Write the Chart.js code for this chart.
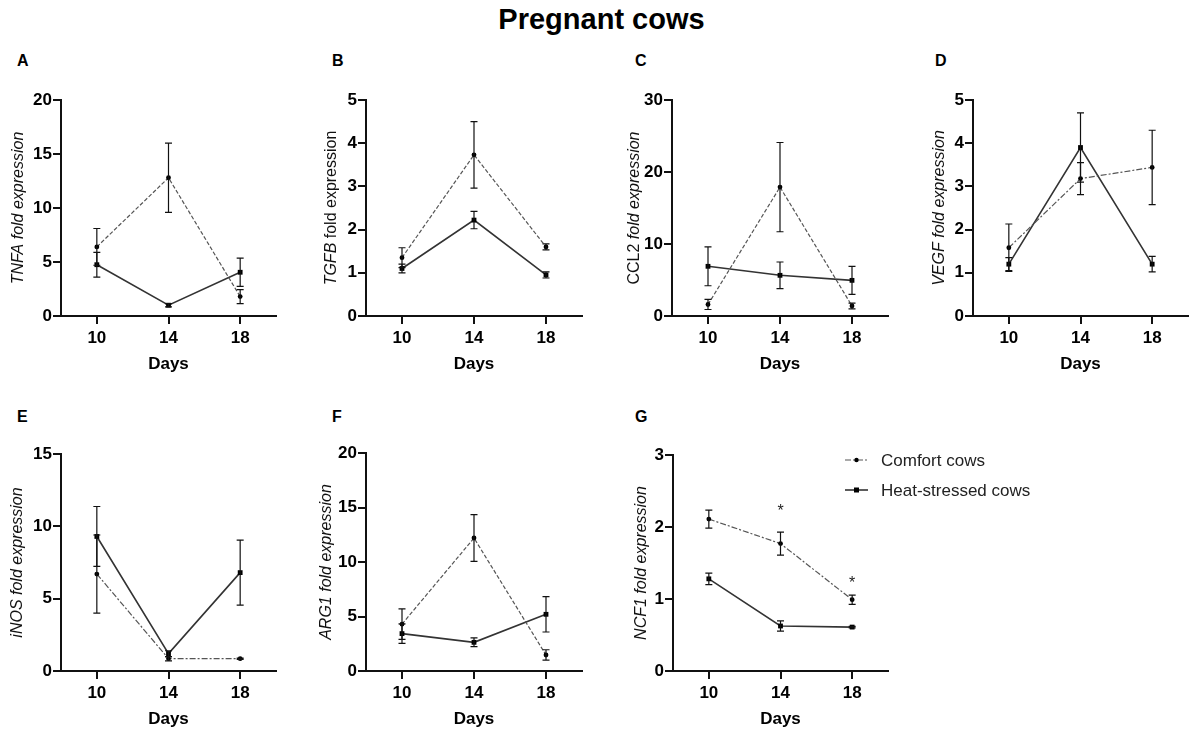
<!DOCTYPE html>
<html><head><meta charset="utf-8">
<script src="https://cdn.jsdelivr.net/npm/chart.js@4/dist/chart.umd.min.js"></script>
<style>
body{margin:0;background:#fff;width:1195px;height:732px;overflow:hidden;position:relative;font-family:"Liberation Sans",Arial,sans-serif;}
canvas{position:absolute;}
.t{position:absolute;font-weight:bold;color:#000;white-space:nowrap;}
</style></head><body>
<div class="t" style="left:4px;width:1195px;text-align:center;top:5px;font-size:29px;line-height:29px;">Pregnant cows</div>
<script>
// ---- data ----
const days = [10, 14, 18];
const seriesLabels = ['Comfort cows', 'Heat-stressed cows'];

const tnfaComfort = [6.4, 12.8, 1.8];
const tnfaComfortErr = [1.7, 3.2, 0.65];
const tnfaHeat = [4.75, 1.0, 4.05];
const tnfaHeatErr = [1.15, 0.15, 1.3];

const tgfbComfort = [1.35, 3.73, 1.6];
const tgfbComfortErr = [0.23, 0.77, 0.07];
const tgfbHeat = [1.1, 2.22, 0.95];
const tgfbHeatErr = [0.1, 0.2, 0.07];

const ccl2Comfort = [1.6, 17.9, 1.4];
const ccl2ComfortErr = [0.7, 6.2, 0.4];
const ccl2Heat = [6.9, 5.65, 4.95];
const ccl2HeatErr = [2.7, 1.85, 1.95];

const vegfComfort = [1.58, 3.18, 3.44];
const vegfComfortErr = [0.55, 0.37, 0.86];
const vegfHeat = [1.2, 3.9, 1.2];
const vegfHeatErr = [0.15, 0.8, 0.18];

const inosComfort = [6.7, 0.85, 0.85];
const inosComfortErr = [2.7, 0.15, 0.04];
const inosHeat = [9.3, 1.2, 6.8];
const inosHeatErr = [2.07, 0.2, 2.25];

const arg1Comfort = [4.3, 12.2, 1.47];
const arg1ComfortErr = [1.4, 2.15, 0.48];
const arg1Heat = [3.43, 2.63, 5.2];
const arg1HeatErr = [0.9, 0.4, 1.62];

const ncf1Comfort = [2.11, 1.77, 0.99];
const ncf1ComfortErr = [0.125, 0.16, 0.065];
const ncf1Heat = [1.28, 0.625, 0.61];
const ncf1HeatErr = [0.08, 0.07, 0.01];
const ncf1StarDays = [14, 18];
const ncf1StarLevels = [2.22, 1.22];

const panelLetters = ['A','B','C','D','E','F','G'];

// ---- layout ----
const FAM = '"Liberation Sans", Arial, sans-serif';
const DASH = [4, 2];
const DASHDOT = [6, 2, 2, 2];

const panels = [
  {lx:17, ly:52.5, yLabel:[['TNFA fold expression',true]], c:tnfaComfort, ce:tnfaComfortErr, h:tnfaHeat, he:tnfaHeatErr, yMax:20, yStep:5, box:{x:61,r:276,t:100,b:316}, dx:42, dash:DASH},
  {lx:332, ly:52.5, yLabel:[['TGFB',true],[' fold expression',false]], c:tgfbComfort, ce:tgfbComfortErr, h:tgfbHeat, he:tgfbHeatErr, yMax:5, yStep:1, box:{x:366,r:582,t:100,b:316}, dx:34, dash:DASH},
  {lx:635, ly:52.5, yLabel:[['CCL2',false],[' fold expression',true]], c:ccl2Comfort, ce:ccl2ComfortErr, h:ccl2Heat, he:ccl2HeatErr, yMax:30, yStep:10, box:{x:672,r:888,t:100,b:316}, dx:37, dash:DASH},
  {lx:935, ly:52.5, yLabel:[['VEGF fold expression',true]], c:vegfComfort, ce:vegfComfortErr, h:vegfHeat, he:vegfHeatErr, yMax:5, yStep:1, box:{x:973,r:1188,t:100,b:316}, dx:33, dash:DASHDOT},
  {lx:17, ly:408.5, yLabel:[['iNOS fold expression',true]], c:inosComfort, ce:inosComfortErr, h:inosHeat, he:inosHeatErr, yMax:15, yStep:5, box:{x:61,r:276,t:454,b:671}, dx:43, dash:DASHDOT},
  {lx:332, ly:408.5, yLabel:[['ARG1 fold expression',true]], c:arg1Comfort, ce:arg1ComfortErr, h:arg1Heat, he:arg1HeatErr, yMax:20, yStep:5, box:{x:366,r:582,t:453,b:671}, dx:39, dash:DASH},
  {lx:635, ly:408.5, yLabel:[['NCF1 fold expression',true]], c:ncf1Comfort, ce:ncf1ComfortErr, h:ncf1Heat, he:ncf1HeatErr, yMax:3, yStep:1, box:{x:673,r:888,t:455,b:671}, dx:31, dash:DASHDOT, stars:true, legend:true, extraRight:170}
];

// ---- plugins ----
const errorBars = {
  id:'errorBars',
  afterDatasetsDraw(chart){
    const ctx = chart.ctx, xs = chart.scales.x, ys = chart.scales.y;
    chart.data.datasets.forEach(ds => {
      if (!ds.errors) return;
      ctx.save();
      ctx.strokeStyle = '#111'; ctx.lineWidth = 1.2; ctx.setLineDash([]);
      ds.data.forEach((p, i) => {
        const e = ds.errors[i]; if (!e) return;
        const x = xs.getPixelForValue(p.x);
        const y1 = ys.getPixelForValue(p.y + e), y2 = ys.getPixelForValue(p.y - e);
        ctx.beginPath();
        ctx.moveTo(x, y1); ctx.lineTo(x, y2);
        ctx.moveTo(x - 3.5, y1); ctx.lineTo(x + 3.5, y1);
        ctx.moveTo(x - 3.5, y2); ctx.lineTo(x + 3.5, y2);
        ctx.stroke();
      });
      ctx.restore();
    });
  }
};

const yTitle = {
  id:'yTitle',
  afterDraw(chart, args, opts){
    const segs = opts.segments; if (!segs) return;
    const ctx = chart.ctx; ctx.save();
    const fonts = segs.map(s => (s[1] ? 'italic ' : '') + '16px ' + FAM);
    const widths = segs.map((s, i) => { ctx.font = fonts[i]; return ctx.measureText(s[0]).width; });
    const total = widths.reduce((a, b) => a + b, 0);
    const ca = chart.chartArea;
    ctx.translate(ca.left - opts.dx, (ca.top + ca.bottom) / 2);
    ctx.rotate(-Math.PI / 2);
    ctx.textBaseline = 'middle'; ctx.textAlign = 'left'; ctx.fillStyle = '#111';
    let x = -total / 2;
    segs.forEach((s, i) => { ctx.font = fonts[i]; ctx.fillText(s[0], x, 0); x += widths[i]; });
    ctx.restore();
  }
};

const stars = {
  id:'stars',
  afterDraw(chart, args, opts){
    if (!opts.xs) return;
    const ctx = chart.ctx; ctx.save();
    ctx.font = '16px ' + FAM; ctx.fillStyle = '#222';
    ctx.textAlign = 'center'; ctx.textBaseline = 'middle';
    opts.xs.forEach((d, i) => {
      ctx.fillText('*', chart.scales.x.getPixelForValue(d), chart.scales.y.getPixelForValue(opts.ys[i]));
    });
    ctx.restore();
  }
};

const seriesLegend = {
  id:'seriesLegend',
  afterDraw(chart, args, opts){
    if (!opts.show) return;
    const ctx = chart.ctx, ca = chart.chartArea;
    chart.data.datasets.forEach((ds, i) => {
      const y = ca.top + 5 + i * 30;
      const x0 = ca.right - 43, x1 = ca.right - 20;
      ctx.save();
      ctx.strokeStyle = ds.borderColor; ctx.lineWidth = ds.borderWidth;
      ctx.setLineDash(ds.borderDash || []);
      ctx.beginPath(); ctx.moveTo(x0, y); ctx.lineTo(x1, y); ctx.stroke();
      ctx.setLineDash([]);
      ctx.fillStyle = '#000';
      const xm = (x0 + x1) / 2;
      if (ds.pointStyle === 'rect') ctx.fillRect(xm - 2.5, y - 2.5, 5, 5);
      else { ctx.beginPath(); ctx.arc(xm, y, 2.2, 0, Math.PI * 2); ctx.fill(); }
      ctx.font = '17px ' + FAM; ctx.fillStyle = '#222';
      ctx.textAlign = 'left'; ctx.textBaseline = 'middle';
      ctx.fillText(ds.label, ca.right - 7, y + 1);
      ctx.restore();
    });
  }
};

// ---- build ----
panels.forEach((p, idx) => {
  const lt = document.createElement('div');
  lt.className = 't';
  lt.style.cssText = `left:${p.lx}px;top:${p.ly}px;font-size:16px;line-height:16px;`;
  lt.textContent = panelLetters[idx];
  document.body.appendChild(lt);

  const PT = 14, YW = 60, XH = 62, PR = 8 + (p.extraRight || 0);
  const cv = document.createElement('canvas');
  const w = p.box.r - p.box.x + YW + PR, h = p.box.b - p.box.t + PT + XH;
  cv.width = w; cv.height = h;
  cv.style.left = (p.box.x - YW) + 'px'; cv.style.top = (p.box.t - PT) + 'px';
  cv.style.width = w + 'px'; cv.style.height = h + 'px';
  document.body.appendChild(cv);

  const gridOpt = {drawOnChartArea:false, drawTicks:true, tickLength:8, color:'#111', lineWidth:2};
  const borderOpt = {display:true, color:'#111', width:2};
  const tickFont = {size:17, weight:'bold', family:FAM};

  new Chart(cv, {
    type:'line',
    data:{datasets:[
      {label:seriesLabels[0], data:days.map((d, i) => ({x:d, y:p.c[i]})), errors:p.ce,
       borderColor:'#555', borderWidth:1.2, borderDash:p.dash, pointStyle:'circle', pointRadius:2.4,
       pointBackgroundColor:'#000', pointBorderColor:'#000', pointBorderWidth:0, tension:0, fill:false},
      {label:seriesLabels[1], data:days.map((d, i) => ({x:d, y:p.h[i]})), errors:p.he,
       borderColor:'#333', borderWidth:1.6, pointStyle:'rect', pointRadius:3.4,
       pointBackgroundColor:'#000', pointBorderColor:'#000', pointBorderWidth:0, tension:0, fill:false}
    ]},
    options:{
      responsive:false, animation:false, devicePixelRatio:1,
      layout:{padding:{left:0, top:PT, right:PR, bottom:0}},
      plugins:{
        legend:{display:false}, tooltip:{enabled:false},
        yTitle:{segments:p.yLabel, dx:p.dx},
        stars:p.stars ? {xs:ncf1StarDays, ys:ncf1StarLevels} : {},
        seriesLegend:{show:!!p.legend}
      },
      scales:{
        x:{type:'linear', min:8, max:20,
           afterBuildTicks:s => { s.ticks = days.map(v => ({value:v})); },
           afterFit:s => { s.height = XH; },
           grid:gridOpt, border:borderOpt,
           ticks:{color:'#000', font:tickFont, padding:4, maxRotation:0, autoSkip:false},
           title:{display:true, text:'Days', color:'#000', font:{size:17, weight:'bold', family:FAM}, padding:{top:0, bottom:3}}},
        y:{type:'linear', min:0, max:p.yMax,
           afterFit:s => { s.width = YW; },
           grid:gridOpt, border:borderOpt,
           ticks:{stepSize:p.yStep, color:'#000', font:tickFont, padding:1}}
      }
    },
    plugins:[errorBars, yTitle, stars, seriesLegend]
  });
});
</script>
</body></html>
